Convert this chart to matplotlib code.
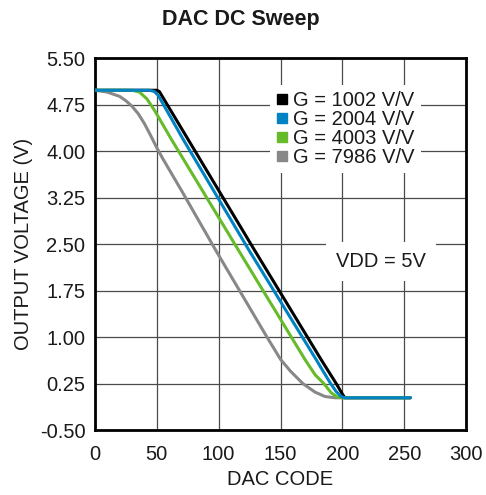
import matplotlib
matplotlib.use('Agg')
import matplotlib.pyplot as plt
from matplotlib.lines import Line2D

plt.rcParams['font.family'] = ['Liberation Sans', 'DejaVu Sans']
plt.rcParams['axes.unicode_minus'] = False

# curves (DAC code, output voltage)
code_1002 = [0, 50, 52, 129, 183, 195, 200, 202, 255]
vout_1002 = [4.98, 4.98, 4.96, 2.40, 0.63, 0.25, 0.08, 0.02, 0.02]

code_2004 = [0, 44, 48, 51, 55, 71.5, 124.5, 179, 185, 190.5, 195, 199, 202, 255]
vout_2004 = [4.98, 4.98, 4.96, 4.90, 4.76, 4.18, 2.40, 0.63, 0.43, 0.25, 0.12, 0.04, 0.02, 0.02]

code_4003 = [0, 30, 36, 42, 48, 55, 62, 69, 116, 170, 178, 185, 191, 196, 200, 255]
vout_4003 = [4.98, 4.98, 4.95, 4.84, 4.66, 4.42, 4.18, 3.95, 2.40, 0.63, 0.39, 0.25, 0.10, 0.03, 0.02, 0.02]

code_7986 = [0, 10, 20, 25, 30, 35, 40, 45, 50, 55, 60, 70, 97, 139, 150, 158, 168, 178, 186, 194, 255]
vout_7986 = [4.98, 4.95, 4.88, 4.81, 4.72, 4.60, 4.44, 4.25, 4.05, 3.87, 3.70, 3.36, 2.42, 1.00, 0.64, 0.45, 0.25, 0.11, 0.04, 0.02, 0.02]

gain_labels = ['G = 1002 V/V', 'G = 2004 V/V', 'G = 4003 V/V', 'G = 7986 V/V']
colors = ['#000000', '#0082c3', '#66bb2a', '#888888']

x_ticks = [0, 50, 100, 150, 200, 250, 300]
y_ticks = [-0.50, 0.25, 1.00, 1.75, 2.50, 3.25, 4.00, 4.75, 5.50]

txt = '#1a1a1a'
fs = 14.5

fig = plt.figure(figsize=(4.86, 4.95), dpi=100)
ax = fig.add_axes([0.1955, 0.1313, 0.7634, 0.7515])

series = [(code_1002, vout_1002), (code_7986, vout_7986), (code_4003, vout_4003), (code_2004, vout_2004)]
series_colors = [colors[0], colors[3], colors[2], colors[1]]
for (xs, ys), c in zip(series, series_colors):
    ax.plot(xs, ys, color=c, lw=2.2, solid_capstyle='round', solid_joinstyle='round', zorder=3)

ax.set_xlim(0, 300)
ax.set_ylim(-0.5, 5.5)
ax.set_xticks(x_ticks)
ax.set_xticklabels([str(t) for t in x_ticks])
ax.set_yticks(y_ticks)
ax.set_yticklabels(['%.2f' % t for t in y_ticks])
ax.tick_params(length=0, labelsize=fs, colors=txt)
ax.tick_params(axis='x', pad=11)
ax.tick_params(axis='y', pad=7)
ax.grid(True, color='#4a4a4a', lw=0.9)
ax.set_axisbelow(True)
for sp in ax.spines.values():
    sp.set_linewidth(2.0)
    sp.set_color('black')

ax.set_xlabel('DAC CODE', fontsize=fs, color=txt, labelpad=4)
ax.set_ylabel('OUTPUT VOLTAGE (V)', fontsize=fs, color=txt, labelpad=5)
fig.text(0.496, 0.96, 'DAC DC Sweep', ha='center', va='center', fontsize=15.5, fontweight='bold', color=txt)

handles = [Line2D([], [], marker='s', ls='none', markersize=7, color=c) for c in colors]
leg = ax.legend(handles, gain_labels, loc='upper left', bbox_to_anchor=(0.472, 0.928),
                borderaxespad=0, borderpad=0.3, handlelength=0.6, handletextpad=0.25,
                labelspacing=0.0, fontsize=fs, frameon=True, fancybox=False)
leg.get_frame().set_facecolor('white')
leg.get_frame().set_edgecolor('none')
leg.get_frame().set_alpha(1)
for t in leg.get_texts():
    t.set_color(txt)

ax.text(231, 2.22, 'VDD = 5V', ha='center', va='center', fontsize=fs, color=txt,
        bbox=dict(boxstyle='square,pad=0.5', fc='white', ec='none'), zorder=4)

fig.savefig('out.png', dpi=100)
